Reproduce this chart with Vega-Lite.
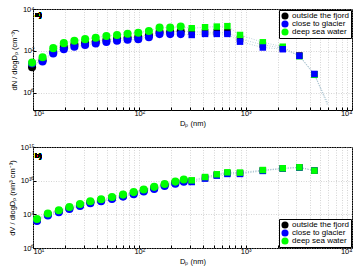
{
  "$schema": "https://vega.github.io/schema/vega-lite/v6.json",
  "padding": {"left": 7, "top": 4, "right": 2, "bottom": 0},
  "spacing": 14,
  "resolve": {"scale": {"y": "independent"}, "legend": {"color": "independent"}},
  "config": {
    "font": "Liberation Sans",
    "view": {"stroke": "black", "strokeWidth": 1},
    "axis": {"labelFontSize": 7.5, "titleFontSize": 7.5, "titleFontWeight": "normal", "labelColor": "black", "titleColor": "black", "domain": false, "tickColor": "black", "tickSize": -3, "gridColor": "#b8b8b8", "gridDash": [1, 1.5], "gridWidth": 0.6, "labelPadding": 2},
    "legend": {"title": null, "strokeColor": "black", "fillColor": "white", "padding": 2, "labelFontSize": 8, "symbolType": "circle", "symbolSize": 50, "rowPadding": 0, "labelOffset": 3, "symbolStrokeWidth": 0, "offset": 1}
  },
  "vconcat": [
    {
      "width": 319, "height": 101,
      "data": {"values": [
        {"d": 9.8, "v": 16.6, "s": "outside the fjord", "inst": "SMPS"},
        {"d": 12.3, "v": 35.5, "s": "outside the fjord", "inst": "SMPS"},
        {"d": 15.5, "v": 89, "s": "outside the fjord", "inst": "SMPS"},
        {"d": 19.5, "v": 151, "s": "outside the fjord", "inst": "SMPS"},
        {"d": 24.5, "v": 200, "s": "outside the fjord", "inst": "SMPS"},
        {"d": 30.9, "v": 240, "s": "outside the fjord", "inst": "SMPS"},
        {"d": 38.9, "v": 282, "s": "outside the fjord", "inst": "SMPS"},
        {"d": 49, "v": 331, "s": "outside the fjord", "inst": "SMPS"},
        {"d": 61.7, "v": 380, "s": "outside the fjord", "inst": "SMPS"},
        {"d": 77.6, "v": 427, "s": "outside the fjord", "inst": "SMPS"},
        {"d": 97.7, "v": 457, "s": "outside the fjord", "inst": "SMPS"},
        {"d": 123, "v": 550, "s": "outside the fjord", "inst": "SMPS"},
        {"d": 155, "v": 794, "s": "outside the fjord", "inst": "SMPS"},
        {"d": 195, "v": 794, "s": "outside the fjord", "inst": "SMPS"},
        {"d": 245, "v": 871, "s": "outside the fjord", "inst": "SMPS"},
        {"d": 9.8, "v": 25, "s": "close to glacier", "inst": "SMPS"},
        {"d": 12.3, "v": 30.9, "s": "close to glacier", "inst": "SMPS"},
        {"d": 15.5, "v": 75.9, "s": "close to glacier", "inst": "SMPS"},
        {"d": 19.5, "v": 120, "s": "close to glacier", "inst": "SMPS"},
        {"d": 24.5, "v": 158, "s": "close to glacier", "inst": "SMPS"},
        {"d": 30.9, "v": 191, "s": "close to glacier", "inst": "SMPS"},
        {"d": 38.9, "v": 224, "s": "close to glacier", "inst": "SMPS"},
        {"d": 49, "v": 263, "s": "close to glacier", "inst": "SMPS"},
        {"d": 61.7, "v": 302, "s": "close to glacier", "inst": "SMPS"},
        {"d": 77.6, "v": 339, "s": "close to glacier", "inst": "SMPS"},
        {"d": 97.7, "v": 363, "s": "close to glacier", "inst": "SMPS"},
        {"d": 123, "v": 447, "s": "close to glacier", "inst": "SMPS"},
        {"d": 155, "v": 631, "s": "close to glacier", "inst": "SMPS"},
        {"d": 195, "v": 631, "s": "close to glacier", "inst": "SMPS"},
        {"d": 245, "v": 631, "s": "close to glacier", "inst": "SMPS"},
        {"d": 9.8, "v": 27.5, "s": "deep sea water", "inst": "SMPS"},
        {"d": 12.3, "v": 50, "s": "deep sea water", "inst": "SMPS"},
        {"d": 15.5, "v": 135, "s": "deep sea water", "inst": "SMPS"},
        {"d": 19.5, "v": 234, "s": "deep sea water", "inst": "SMPS"},
        {"d": 24.5, "v": 302, "s": "deep sea water", "inst": "SMPS"},
        {"d": 30.9, "v": 363, "s": "deep sea water", "inst": "SMPS"},
        {"d": 38.9, "v": 427, "s": "deep sea water", "inst": "SMPS"},
        {"d": 49, "v": 513, "s": "deep sea water", "inst": "SMPS"},
        {"d": 61.7, "v": 575, "s": "deep sea water", "inst": "SMPS"},
        {"d": 77.6, "v": 661, "s": "deep sea water", "inst": "SMPS"},
        {"d": 97.7, "v": 741, "s": "deep sea water", "inst": "SMPS"},
        {"d": 123, "v": 891, "s": "deep sea water", "inst": "SMPS"},
        {"d": 155, "v": 1288, "s": "deep sea water", "inst": "SMPS"},
        {"d": 195, "v": 1288, "s": "deep sea water", "inst": "SMPS"},
        {"d": 245, "v": 1445, "s": "deep sea water", "inst": "SMPS"},
        {"d": 311, "v": 832, "s": "outside the fjord", "inst": "OPC"},
        {"d": 415, "v": 776, "s": "outside the fjord", "inst": "OPC"},
        {"d": 535, "v": 776, "s": "outside the fjord", "inst": "OPC"},
        {"d": 673, "v": 776, "s": "outside the fjord", "inst": "OPC"},
        {"d": 885, "v": 372, "s": "outside the fjord", "inst": "OPC"},
        {"d": 1450, "v": 195, "s": "outside the fjord", "inst": "OPC"},
        {"d": 2233, "v": 135, "s": "outside the fjord", "inst": "OPC"},
        {"d": 3200, "v": 60, "s": "outside the fjord", "inst": "OPC"},
        {"d": 4430, "v": 7.6, "s": "outside the fjord", "inst": "OPC"},
        {"d": 311, "v": 1202, "s": "deep sea water", "inst": "OPC"},
        {"d": 415, "v": 1349, "s": "deep sea water", "inst": "OPC"},
        {"d": 535, "v": 1445, "s": "deep sea water", "inst": "OPC"},
        {"d": 673, "v": 1514, "s": "deep sea water", "inst": "OPC"},
        {"d": 885, "v": 575, "s": "deep sea water", "inst": "OPC"},
        {"d": 1450, "v": 257, "s": "deep sea water", "inst": "OPC"},
        {"d": 2233, "v": 158, "s": "deep sea water", "inst": "OPC"},
        {"d": 3200, "v": 55, "s": "deep sea water", "inst": "OPC"},
        {"d": 4430, "v": 7.2, "s": "deep sea water", "inst": "OPC"},
        {"d": 311, "v": 575, "s": "close to glacier", "inst": "OPC"},
        {"d": 415, "v": 646, "s": "close to glacier", "inst": "OPC"},
        {"d": 535, "v": 646, "s": "close to glacier", "inst": "OPC"},
        {"d": 673, "v": 646, "s": "close to glacier", "inst": "OPC"},
        {"d": 885, "v": 275, "s": "close to glacier", "inst": "OPC"},
        {"d": 1450, "v": 145, "s": "close to glacier", "inst": "OPC"},
        {"d": 2233, "v": 120, "s": "close to glacier", "inst": "OPC"},
        {"d": 3200, "v": 58, "s": "close to glacier", "inst": "OPC"},
        {"d": 4430, "v": 7.9, "s": "close to glacier", "inst": "OPC"},
        {"d": 5900, "v": 0.24, "s": "outside the fjord", "inst": "fit"},
        {"d": 5900, "v": 0.29, "s": "close to glacier", "inst": "fit"},
        {"d": 5900, "v": 0.34, "s": "deep sea water", "inst": "fit"}
      ]},
      "layer": [
        {
          "mark": {"type": "line", "strokeDash": [1, 1.5], "strokeWidth": 0.7, "color": "#9dbac8"},
          "encoding": {
            "x": {"field": "d", "type": "quantitative", "scale": {"type": "log", "domain": [10, 10000], "nice": false},
              "axis": {"title": "Dₚ (nm)", "titlePadding": 3, "values": [10,20,30,40,50,60,70,80,90,100,200,300,400,500,600,700,800,900,1000,2000,3000,4000,5000,6000,7000,8000,9000,10000],
                "labelExpr": "datum.value == 10 ? '10¹' : datum.value == 100 ? '10²' : datum.value == 1000 ? '10³' : datum.value == 10000 ? '10⁴' : ''"}},
            "y": {"field": "v", "type": "quantitative", "scale": {"type": "log", "domain": [0.15, 10000], "nice": false},
              "axis": {"title": "dN / dlogDₚ (cm⁻³)", "titlePadding": 4, "values": [1, 100, 10000],
                "labelExpr": "datum.value == 1 ? '10⁰' : datum.value == 100 ? '10²' : '10⁴'"}},
            "detail": {"field": "s"}
          }
        },
        {
          "transform": [{"filter": "datum.inst != 'fit'"}],
          "mark": {"type": "point", "filled": true, "opacity": 1, "strokeWidth": 0},
          "encoding": {
            "x": {"field": "d", "type": "quantitative"},
            "y": {"field": "v", "type": "quantitative"},
            "color": {"field": "s", "type": "nominal", "scale": {"domain": ["outside the fjord", "close to glacier", "deep sea water"], "range": ["#000000", "#0000ff", "#00ff00"]},
              "legend": {"orient": "top-right"}},
            "shape": {"field": "inst", "type": "nominal", "scale": {"domain": ["SMPS", "OPC"], "range": ["circle", "square"]}, "legend": null},
            "size": {"field": "inst", "type": "nominal", "scale": {"domain": ["SMPS", "OPC"], "range": [65, 42]}, "legend": null}
          }
        },
        {
          "mark": {"type": "text", "align": "left", "baseline": "middle", "fontSize": 7.5, "color": "black"},
          "encoding": {"x": {"datum": 10.45}, "y": {"datum": 4900}, "text": {"value": "a)"}}
        }
      ]
    },
    {
      "width": 319, "height": 101,
      "data": {"values": [
        {"d": 10.9, "v": 1.45e4, "s": "outside the fjord", "inst": "SMPS"},
        {"d": 13.8, "v": 9.2e4, "s": "outside the fjord", "inst": "SMPS"},
        {"d": 17.5, "v": 2.8e5, "s": "outside the fjord", "inst": "SMPS"},
        {"d": 22, "v": 8.7e5, "s": "outside the fjord", "inst": "SMPS"},
        {"d": 27.7, "v": 2.4e6, "s": "outside the fjord", "inst": "SMPS"},
        {"d": 34.6, "v": 6.2e6, "s": "outside the fjord", "inst": "SMPS"},
        {"d": 43.7, "v": 1.2e7, "s": "outside the fjord", "inst": "SMPS"},
        {"d": 55.3, "v": 2.6e7, "s": "outside the fjord", "inst": "SMPS"},
        {"d": 70.3, "v": 6.0e7, "s": "outside the fjord", "inst": "SMPS"},
        {"d": 88.5, "v": 1.42e8, "s": "outside the fjord", "inst": "SMPS"},
        {"d": 110, "v": 3.6e8, "s": "outside the fjord", "inst": "SMPS"},
        {"d": 138, "v": 8.5e8, "s": "outside the fjord", "inst": "SMPS"},
        {"d": 173, "v": 2.2e9, "s": "outside the fjord", "inst": "SMPS"},
        {"d": 218, "v": 5.1e9, "s": "outside the fjord", "inst": "SMPS"},
        {"d": 262, "v": 1.03e10, "s": "outside the fjord", "inst": "SMPS"},
        {"d": 10.9, "v": 1.02e4, "s": "close to glacier", "inst": "SMPS"},
        {"d": 13.8, "v": 6.5e4, "s": "close to glacier", "inst": "SMPS"},
        {"d": 17.5, "v": 2.0e5, "s": "close to glacier", "inst": "SMPS"},
        {"d": 22, "v": 6.2e5, "s": "close to glacier", "inst": "SMPS"},
        {"d": 27.7, "v": 1.7e6, "s": "close to glacier", "inst": "SMPS"},
        {"d": 34.6, "v": 4.4e6, "s": "close to glacier", "inst": "SMPS"},
        {"d": 43.7, "v": 8.5e6, "s": "close to glacier", "inst": "SMPS"},
        {"d": 55.3, "v": 1.86e7, "s": "close to glacier", "inst": "SMPS"},
        {"d": 70.3, "v": 4.3e7, "s": "close to glacier", "inst": "SMPS"},
        {"d": 88.5, "v": 1.0e8, "s": "close to glacier", "inst": "SMPS"},
        {"d": 110, "v": 2.5e8, "s": "close to glacier", "inst": "SMPS"},
        {"d": 138, "v": 6.0e8, "s": "close to glacier", "inst": "SMPS"},
        {"d": 173, "v": 1.58e9, "s": "close to glacier", "inst": "SMPS"},
        {"d": 218, "v": 3.6e9, "s": "close to glacier", "inst": "SMPS"},
        {"d": 262, "v": 7.2e9, "s": "close to glacier", "inst": "SMPS"},
        {"d": 10.9, "v": 2.04e4, "s": "deep sea water", "inst": "SMPS"},
        {"d": 13.8, "v": 1.29e5, "s": "deep sea water", "inst": "SMPS"},
        {"d": 17.5, "v": 3.98e5, "s": "deep sea water", "inst": "SMPS"},
        {"d": 22, "v": 1.23e6, "s": "deep sea water", "inst": "SMPS"},
        {"d": 27.7, "v": 3.39e6, "s": "deep sea water", "inst": "SMPS"},
        {"d": 34.6, "v": 8.71e6, "s": "deep sea water", "inst": "SMPS"},
        {"d": 43.7, "v": 1.70e7, "s": "deep sea water", "inst": "SMPS"},
        {"d": 55.3, "v": 3.72e7, "s": "deep sea water", "inst": "SMPS"},
        {"d": 70.3, "v": 8.51e7, "s": "deep sea water", "inst": "SMPS"},
        {"d": 88.5, "v": 2.0e8, "s": "deep sea water", "inst": "SMPS"},
        {"d": 110, "v": 5.01e8, "s": "deep sea water", "inst": "SMPS"},
        {"d": 138, "v": 1.2e9, "s": "deep sea water", "inst": "SMPS"},
        {"d": 173, "v": 3.16e9, "s": "deep sea water", "inst": "SMPS"},
        {"d": 218, "v": 7.24e9, "s": "deep sea water", "inst": "SMPS"},
        {"d": 262, "v": 1.45e10, "s": "deep sea water", "inst": "SMPS"},
        {"d": 311, "v": 8.9e9, "s": "outside the fjord", "inst": "OPC"},
        {"d": 415, "v": 2.75e10, "s": "outside the fjord", "inst": "OPC"},
        {"d": 535, "v": 7.1e10, "s": "outside the fjord", "inst": "OPC"},
        {"d": 673, "v": 1.35e11, "s": "outside the fjord", "inst": "OPC"},
        {"d": 885, "v": 1.3e11, "s": "outside the fjord", "inst": "OPC"},
        {"d": 1450, "v": 3.3e11, "s": "outside the fjord", "inst": "OPC"},
        {"d": 2233, "v": 6.6e11, "s": "outside the fjord", "inst": "OPC"},
        {"d": 3200, "v": 9.3e11, "s": "outside the fjord", "inst": "OPC"},
        {"d": 4430, "v": 3.15e11, "s": "outside the fjord", "inst": "OPC"},
        {"d": 311, "v": 6.3e9, "s": "close to glacier", "inst": "OPC"},
        {"d": 415, "v": 2.0e10, "s": "close to glacier", "inst": "OPC"},
        {"d": 535, "v": 5.6e10, "s": "close to glacier", "inst": "OPC"},
        {"d": 673, "v": 1.0e11, "s": "close to glacier", "inst": "OPC"},
        {"d": 885, "v": 1.0e11, "s": "close to glacier", "inst": "OPC"},
        {"d": 1450, "v": 2.8e11, "s": "close to glacier", "inst": "OPC"},
        {"d": 2233, "v": 6.3e11, "s": "close to glacier", "inst": "OPC"},
        {"d": 3200, "v": 8.9e11, "s": "close to glacier", "inst": "OPC"},
        {"d": 4430, "v": 3.2e11, "s": "close to glacier", "inst": "OPC"},
        {"d": 311, "v": 1.12e10, "s": "deep sea water", "inst": "OPC"},
        {"d": 415, "v": 3.47e10, "s": "deep sea water", "inst": "OPC"},
        {"d": 535, "v": 8.91e10, "s": "deep sea water", "inst": "OPC"},
        {"d": 673, "v": 1.74e11, "s": "deep sea water", "inst": "OPC"},
        {"d": 885, "v": 1.58e11, "s": "deep sea water", "inst": "OPC"},
        {"d": 1450, "v": 3.8e11, "s": "deep sea water", "inst": "OPC"},
        {"d": 2233, "v": 6.92e11, "s": "deep sea water", "inst": "OPC"},
        {"d": 3200, "v": 9.77e11, "s": "deep sea water", "inst": "OPC"},
        {"d": 4430, "v": 3.09e11, "s": "deep sea water", "inst": "OPC"}
      ]},
      "layer": [
        {
          "mark": {"type": "line", "strokeDash": [1, 1.5], "strokeWidth": 0.7, "color": "#9dbac8"},
          "encoding": {
            "x": {"field": "d", "type": "quantitative", "scale": {"type": "log", "domain": [10, 10000], "nice": false},
              "axis": {"title": "Dₚ (nm)", "titlePadding": 3, "values": [10,20,30,40,50,60,70,80,90,100,200,300,400,500,600,700,800,900,1000,2000,3000,4000,5000,6000,7000,8000,9000,10000],
                "labelExpr": "datum.value == 10 ? '10¹' : datum.value == 100 ? '10²' : datum.value == 1000 ? '10³' : datum.value == 10000 ? '10⁴' : ''"}},
            "y": {"field": "v", "type": "quantitative", "scale": {"type": "log", "domain": [1, 1e15], "nice": false},
              "axis": {"title": "dV / dlogDₚ (nm³ cm⁻³)", "titlePadding": 4, "values": [1, 1e5, 1e10, 1e15],
                "labelExpr": "datum.value == 1 ? '10⁰' : datum.value == 1e5 ? '10⁵' : datum.value == 1e10 ? '10¹⁰' : '10¹⁵'"}},
            "detail": {"field": "s"}
          }
        },
        {
          "mark": {"type": "point", "filled": true, "opacity": 1, "strokeWidth": 0},
          "encoding": {
            "x": {"field": "d", "type": "quantitative"},
            "y": {"field": "v", "type": "quantitative"},
            "color": {"field": "s", "type": "nominal", "scale": {"domain": ["outside the fjord", "close to glacier", "deep sea water"], "range": ["#000000", "#0000ff", "#00ff00"]},
              "legend": {"orient": "bottom-right"}},
            "shape": {"field": "inst", "type": "nominal", "scale": {"domain": ["SMPS", "OPC"], "range": ["circle", "square"]}, "legend": null},
            "size": {"field": "inst", "type": "nominal", "scale": {"domain": ["SMPS", "OPC"], "range": [65, 42]}, "legend": null}
          }
        },
        {
          "mark": {"type": "text", "align": "left", "baseline": "middle", "fontSize": 7.5, "color": "black"},
          "encoding": {"x": {"datum": 10.45}, "y": {"datum": 4.9e13}, "text": {"value": "b)"}}
        }
      ]
    }
  ]
}
